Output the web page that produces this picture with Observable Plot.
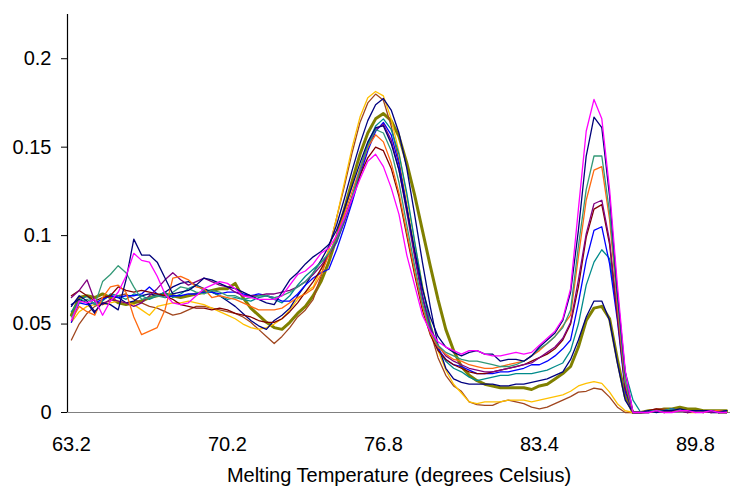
<!DOCTYPE html>
<html>
<head>
<meta charset="utf-8">
<script src="https://cdn.jsdelivr.net/npm/d3@7"></script>
<script src="https://cdn.jsdelivr.net/npm/@observablehq/plot@0.6"></script>
<style>
  html, body { margin: 0; padding: 0; background: #fff; }
  #chart svg { display: block; }
</style>
</head>
<body>
<div id="chart"></div>
<script>
// Category axis: tick labels shown every 20 readings
const xTickIndex = [0, 20, 40, 60, 80];
const xTickLabels = ["63.2", "70.2", "76.8", "83.4", "89.8"];
const yTicks = [0, 0.05, 0.1, 0.15, 0.2];
const xTitle = "Melting Temperature (degrees Celsius)";

const navyA = [0.060,0.066,0.063,0.057,0.062,0.061,0.058,0.075,0.098,0.089,
0.089,0.085,0.076,0.067,0.068,0.069,0.072,0.076,0.075,0.073,
0.071,0.070,0.068,0.066,0.064,0.062,0.061,0.068,0.075,0.079,
0.084,0.088,0.091,0.095,0.103,0.115,0.128,0.141,0.153,0.161,
0.162,0.152,0.137,0.115,0.092,0.070,0.054,0.043,0.037,0.034,
0.032,0.034,0.035,0.033,0.033,0.029,0.030,0.030,0.029,0.032,
0.037,0.041,0.045,0.052,0.068,0.103,0.145,0.167,0.161,0.122,
0.068,0.023,0.000,0.000,0.001,0.000,0.001,0.001,0.002,0.001,
0.001,0.001,0.001,0.000,0.001];

const navyB = [0.061,0.064,0.062,0.056,0.064,0.066,0.065,0.062,0.063,0.066,
0.067,0.066,0.068,0.071,0.073,0.074,0.072,0.070,0.068,0.066,
0.063,0.060,0.056,0.052,0.049,0.047,0.052,0.055,0.059,0.066,
0.072,0.079,0.086,0.094,0.106,0.121,0.137,0.152,0.165,0.174,
0.1775,0.171,0.158,0.138,0.112,0.085,0.060,0.038,0.025,0.019,
0.017,0.016,0.016,0.016,0.016,0.015,0.015,0.016,0.016,0.017,
0.018,0.019,0.021,0.023,0.030,0.041,0.054,0.063,0.063,0.052,
0.028,0.007,0.000,0.000,0.000,0.001,0.000,0.001,0.001,0.000,
0.001,0.000,0.001,0.000,0.000];

const magenta = [0.052,0.063,0.062,0.064,0.055,0.063,0.068,0.077,0.090,0.086,
0.085,0.077,0.067,0.062,0.061,0.062,0.066,0.070,0.072,0.074,
0.073,0.070,0.066,0.065,0.064,0.064,0.064,0.066,0.072,0.078,
0.080,0.084,0.090,0.093,0.100,0.110,0.121,0.132,0.142,0.146,
0.139,0.127,0.112,0.089,0.072,0.055,0.046,0.040,0.037,0.035,
0.033,0.035,0.035,0.033,0.032,0.032,0.033,0.034,0.033,0.034,
0.038,0.042,0.046,0.053,0.070,0.115,0.159,0.177,0.166,0.126,
0.072,0.024,0.000,0.000,0.000,0.001,0.000,0.000,0.001,0.001,
0.000,0.000,0.001,0.000,0.000];

const seagreen = [0.054,0.062,0.064,0.061,0.074,0.078,0.083,0.079,0.071,0.064,
0.065,0.066,0.065,0.068,0.071,0.070,0.068,0.067,0.069,0.068,
0.066,0.066,0.064,0.065,0.066,0.066,0.065,0.066,0.068,0.071,
0.074,0.079,0.085,0.090,0.098,0.109,0.122,0.137,0.151,0.160,
0.158,0.148,0.130,0.106,0.083,0.062,0.046,0.038,0.034,0.032,
0.030,0.029,0.029,0.028,0.027,0.026,0.026,0.027,0.029,0.032,
0.036,0.039,0.043,0.048,0.058,0.094,0.126,0.145,0.145,0.113,
0.064,0.018,0.000,0.000,0.001,0.001,0.001,0.002,0.001,0.001,
0.001,0.001,0.001,0.000,0.000];

const orange = [0.052,0.060,0.057,0.055,0.065,0.071,0.072,0.068,0.054,0.044,
0.046,0.048,0.058,0.076,0.077,0.075,0.071,0.070,0.065,0.066,
0.065,0.064,0.062,0.060,0.058,0.058,0.058,0.059,0.062,0.065,
0.067,0.070,0.078,0.089,0.100,0.112,0.125,0.138,0.150,0.157,
0.153,0.141,0.124,0.102,0.080,0.060,0.045,0.037,0.033,0.030,
0.029,0.027,0.026,0.025,0.025,0.026,0.027,0.028,0.029,0.032,
0.035,0.039,0.043,0.049,0.055,0.088,0.120,0.137,0.139,0.109,
0.060,0.017,0.000,0.000,0.000,0.001,0.001,0.001,0.001,0.001,
0.001,0.000,0.001,0.001,0.000];

const purple = [0.065,0.069,0.075,0.063,0.061,0.064,0.063,0.062,0.060,0.062,
0.066,0.070,0.075,0.079,0.075,0.072,0.074,0.076,0.074,0.072,
0.071,0.068,0.066,0.066,0.066,0.067,0.067,0.068,0.069,0.071,
0.074,0.078,0.083,0.089,0.097,0.108,0.121,0.136,0.150,0.160,
0.163,0.154,0.137,0.113,0.088,0.065,0.048,0.038,0.032,0.029,
0.027,0.025,0.024,0.023,0.023,0.024,0.025,0.026,0.027,0.028,
0.031,0.034,0.037,0.042,0.051,0.075,0.101,0.118,0.120,0.097,
0.056,0.015,0.000,0.000,0.001,0.001,0.001,0.001,0.001,0.000,
0.001,0.001,0.000,0.001,0.000];

const darkred = [0.066,0.069,0.066,0.063,0.065,0.066,0.071,0.069,0.068,0.069,
0.068,0.067,0.066,0.064,0.061,0.060,0.059,0.059,0.058,0.059,
0.058,0.056,0.055,0.054,0.052,0.051,0.051,0.053,0.057,0.062,
0.068,0.074,0.081,0.089,0.099,0.110,0.122,0.134,0.144,0.150,
0.148,0.138,0.122,0.100,0.078,0.058,0.044,0.035,0.030,0.027,
0.025,0.023,0.022,0.022,0.023,0.024,0.025,0.026,0.027,0.029,
0.031,0.033,0.036,0.041,0.050,0.071,0.099,0.115,0.1175,0.095,
0.054,0.014,0.000,0.000,0.001,0.002,0.001,0.001,0.001,0.001,
0.001,0.001,0.001,0.000,0.000];

const blue = [0.051,0.062,0.061,0.062,0.064,0.066,0.065,0.066,0.066,0.067,
0.071,0.067,0.065,0.066,0.066,0.067,0.067,0.068,0.068,0.067,
0.068,0.068,0.067,0.066,0.067,0.066,0.065,0.063,0.063,0.067,
0.072,0.076,0.079,0.081,0.092,0.105,0.119,0.134,0.148,0.159,
0.164,0.157,0.140,0.116,0.090,0.066,0.048,0.036,0.030,0.027,
0.026,0.024,0.022,0.022,0.022,0.023,0.023,0.024,0.025,0.027,
0.027,0.029,0.032,0.036,0.041,0.062,0.086,0.103,0.105,0.084,
0.052,0.012,0.000,0.000,0.000,0.001,0.001,0.002,0.001,0.001,
0.001,0.001,0.000,0.000,0.001];

const teal = [0.057,0.063,0.066,0.061,0.063,0.067,0.066,0.064,0.067,0.066,
0.064,0.066,0.068,0.065,0.067,0.070,0.072,0.069,0.068,0.066,
0.064,0.065,0.064,0.063,0.065,0.066,0.064,0.062,0.066,0.072,
0.077,0.081,0.085,0.089,0.096,0.108,0.122,0.138,0.152,0.162,
0.166,0.160,0.146,0.124,0.097,0.071,0.050,0.036,0.029,0.025,
0.023,0.020,0.018,0.019,0.020,0.021,0.021,0.022,0.022,0.022,
0.023,0.024,0.026,0.028,0.035,0.050,0.072,0.085,0.092,0.087,
0.056,0.023,0.007,0.000,0.001,0.001,0.001,0.002,0.001,0.001,
0.001,0.001,0.001,0.001,0.000];

const olive = [0.055,0.065,0.066,0.065,0.067,0.065,0.062,0.061,0.062,0.063,
0.065,0.066,0.067,0.066,0.065,0.066,0.067,0.068,0.069,0.070,
0.070,0.073,0.065,0.059,0.055,0.051,0.048,0.047,0.051,0.056,
0.060,0.066,0.074,0.085,0.099,0.115,0.131,0.146,0.158,0.166,
0.169,0.165,0.156,0.141,0.123,0.103,0.083,0.064,0.047,0.035,
0.026,0.021,0.018,0.016,0.015,0.014,0.014,0.014,0.014,0.013,
0.015,0.016,0.019,0.022,0.026,0.037,0.052,0.059,0.060,0.053,
0.030,0.009,0.000,0.000,0.001,0.001,0.002,0.002,0.003,0.002,
0.002,0.001,0.001,0.001,0.001];

const gold = [0.051,0.057,0.060,0.061,0.061,0.062,0.063,0.062,0.061,0.058,
0.055,0.060,0.061,0.062,0.062,0.063,0.062,0.061,0.059,0.057,
0.055,0.053,0.050,0.048,0.047,0.048,0.050,0.053,0.058,0.064,
0.068,0.071,0.081,0.092,0.110,0.130,0.150,0.167,0.178,0.1815,
0.179,0.166,0.147,0.122,0.096,0.072,0.051,0.035,0.024,0.016,
0.011,0.006,0.005,0.006,0.006,0.006,0.007,0.007,0.007,0.006,
0.007,0.008,0.009,0.010,0.012,0.015,0.0165,0.0175,0.0165,0.0115,
0.005,0.001,0.000,0.000,0.001,0.001,0.000,0.001,0.001,0.000,
0.000,0.001,0.000,0.000,0.000];

const brown = [0.041,0.050,0.056,0.060,0.062,0.063,0.066,0.067,0.064,0.062,
0.060,0.059,0.057,0.055,0.056,0.058,0.060,0.060,0.059,0.058,
0.057,0.056,0.054,0.051,0.047,0.043,0.039,0.043,0.048,0.054,
0.058,0.064,0.077,0.092,0.110,0.128,0.147,0.164,0.175,0.180,
0.1765,0.162,0.142,0.117,0.090,0.066,0.046,0.031,0.021,0.015,
0.012,0.006,0.0045,0.004,0.004,0.006,0.007,0.006,0.005,0.003,
0.002,0.003,0.005,0.007,0.009,0.0115,0.012,0.0138,0.013,0.0087,
0.003,0.000,0.000,0.000,0.001,0.002,0.002,0.001,0.001,0.001,
0.001,0.001,0.001,0.000,0.000];

const seriesNames  = ["olive","brown","gold","navyB","teal","blue","darkred","purple","orange","seagreen","navyA","magenta"];
const seriesValues = [olive, brown, gold, navyB, teal, blue, darkred, purple, orange, seagreen, navyA, magenta];
const seriesColors = ["#808000","#A0461E","#FFC000","#000080","#008B8B","#0000FF","#800000","#800080","#FF6A10","#339977","#00007A","#FF00FF"];
const seriesWidths = [3, 1.3, 1.3, 1.3, 1.3, 1.3, 1.3, 1.3, 1.3, 1.3, 1.3, 1.3];

const nPoints = navyA.length;

const lineMarks = seriesNames.map((name, k) => {
  const rows = seriesValues[k].map((v, i) => ({i, v}));
  return Plot.lineY(rows, {x: "i", y: "v", stroke: seriesColors[k], strokeWidth: seriesWidths[k], strokeLinejoin: "round"});
});

const chart = Plot.plot({
  width: 730,
  height: 487,
  marginLeft: 67,
  marginRight: 0,
  marginTop: 14,
  marginBottom: 75,
  style: "font-family: 'Liberation Sans', Arial, sans-serif; font-size: 20px; color: #000; background: #fff;",
  x: {domain: [-0.5, nPoints - 0.5], label: null},
  y: {domain: [0, 0.225], label: null},
  marks: [
    Plot.axisY(yTicks, {tickSize: 6, tickPadding: 10, tickFormat: d => String(d), stroke: "#000", fontSize: 20, label: null}),
    Plot.axisX(xTickIndex, {tickSize: 0, tickPadding: 24, tickFormat: d => xTickLabels[xTickIndex.indexOf(d)], fontSize: 20, label: null}),
    Plot.ruleY([0], {stroke: "#808080", strokeWidth: 1.2}),
    Plot.ruleX([-0.5], {y1: 0, y2: 0.225, stroke: "#000", strokeWidth: 1.2}),
    ...lineMarks,
    Plot.text([xTitle], {frameAnchor: "bottom", dy: 63, text: d => d, fontSize: 20, lineAnchor: "middle", fill: "#000"})
  ]
});
document.getElementById("chart").appendChild(chart);
</script>
</body>
</html>
